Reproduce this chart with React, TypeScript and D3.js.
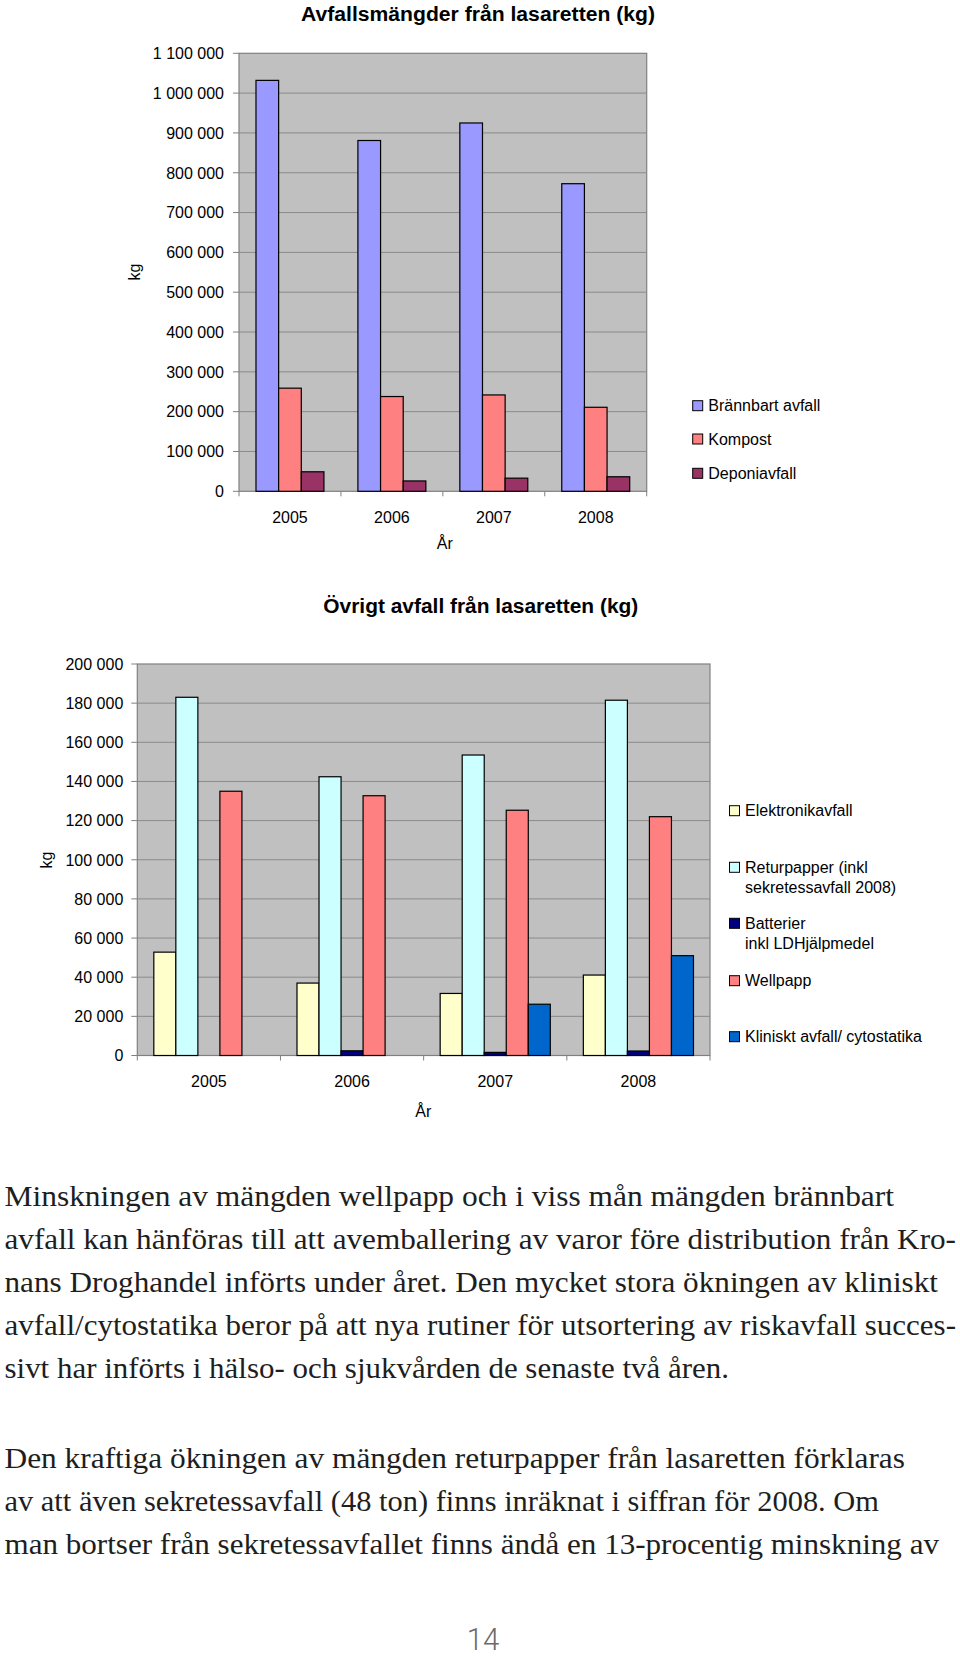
import React from "react";
import * as d3 from "d3";

const years = ["2005", "2006", "2007", "2008"];

// Chart 1: Avfallsmängder från lasaretten (kg)
const c1Series = ["Brännbart avfall", "Kompost", "Deponiavfall"];
const c1Colors = ["#9999FF", "#FF8080", "#993366"];
const brannbart = [1032000, 881000, 925000, 772500];
const kompost = [259000, 238000, 242000, 211000];
const deponi = [49000, 26000, 33000, 36500];
const c1Values = [brannbart, kompost, deponi];
const c1Ticks = d3.range(0, 1100001, 100000);

// Chart 2: Övrigt avfall från lasaretten (kg)
const c2Series = [
  ["Elektronikavfall"],
  ["Returpapper (inkl", "sekretessavfall 2008)"],
  ["Batterier", "inkl LDHjälpmedel"],
  ["Wellpapp"],
  ["Kliniskt avfall/ cytostatika"],
];
const c2Colors = ["#FFFFCC", "#CCFFFF", "#000080", "#FF8080", "#0066CC"];
const elektronik = [52800, 37000, 31700, 41100];
const returpapper = [183000, 142400, 153500, 181500];
const batterier = [0, 2400, 1600, 2300];
const wellpapp = [135000, 132700, 125300, 122000];
const kliniskt = [0, 0, 26200, 51000];
const c2Values = [elektronik, returpapper, batterier, wellpapp, kliniskt];
const c2Ticks = d3.range(0, 200001, 20000);

const para1 = [
  "Minskningen av mängden wellpapp och i viss mån mängden brännbart",
  "avfall kan hänföras till att avemballering av varor före distribution från Kro-",
  "nans Droghandel införts under året. Den mycket stora ökningen av kliniskt",
  "avfall/cytostatika beror på att nya rutiner för utsortering av riskavfall succes-",
  "sivt har införts i hälso- och sjukvården de senaste två åren.",
];
const para1Ends = [894, 956, 938, 956, 729];
const para2 = [
  "Den kraftiga ökningen av mängden returpapper från lasaretten förklaras",
  "av att även sekretessavfall (48 ton) finns inräknat i siffran för 2008. Om",
  "man bortser från sekretessavfallet finns ändå en 13-procentig minskning av",
];
const para2Ends = [905, 879, 939];

const locale = d3.formatLocale({
  decimal: ",",
  thousands: " ",
  grouping: [3],
  currency: ["", ""],
});
const fmt = locale.format(",d");

const SANS = "'Liberation Sans', Arial, sans-serif";
const SERIF = "'Liberation Serif', 'Times New Roman', serif";

type ChartProps = {
  left: number;
  right: number;
  top: number;
  bottom: number;
  max: number;
  ticks: number[];
  values: number[][];
  colors: string[];
  tickLabelX: number;
  tickLen: number;
  xLabelBaseline: number;
  arX: number;
  arBaseline: number;
  kgX: number;
  kgY: number;
  title: string;
  titleX: number;
  titleBaseline: number;
  titleWidth: number;
};

function BarChart(p: ChartProps) {
  const y = d3.scaleLinear().domain([0, p.max]).range([p.bottom, p.top]);
  const x0 = d3.scaleBand<string>().domain(years).range([p.left, p.right]).padding(0);
  const idx = p.values.map((_, i) => String(i));
  const x1 = d3
    .scaleBand<string>()
    .domain(idx)
    .range([0, x0.bandwidth()])
    .paddingInner(0)
    .paddingOuter(0.75);
  const boundaries = years.map((yr) => x0(yr) as number).concat([p.right]);
  return (
    <g>
      <text
        x={p.titleX}
        y={p.titleBaseline}
        fontFamily={SANS}
        fontWeight="bold"
        fontSize={19.5}
        textLength={p.titleWidth}
        lengthAdjust="spacingAndGlyphs"
        fill="#000"
      >
        {p.title}
      </text>
      <rect
        x={p.left}
        y={p.top}
        width={p.right - p.left}
        height={p.bottom - p.top}
        fill="#C0C0C0"
        stroke="#808080"
        strokeWidth={1.2}
      />
      {p.ticks.map((t) => (
        <g key={t}>
          {t > 0 && t < p.max && (
            <line x1={p.left} x2={p.right} y1={y(t)} y2={y(t)} stroke="#8a8a8a" strokeWidth={1} />
          )}
          <line x1={p.left - p.tickLen} x2={p.left} y1={y(t)} y2={y(t)} stroke="#808080" strokeWidth={1} />
          <text
            x={p.tickLabelX}
            y={y(t)}
            dy="0.36em"
            textAnchor="end"
            fontFamily={SANS}
            fontSize={16}
            fill="#000"
          >
            {fmt(t)}
          </text>
        </g>
      ))}
      {boundaries.map((b, i) => (
        <line key={i} x1={b} x2={b} y1={p.bottom} y2={p.bottom + 5} stroke="#808080" strokeWidth={1} />
      ))}
      {p.values.map((series, si) =>
        series.map((v, yi) =>
          v > 0 ? (
            <rect
              key={si + "-" + yi}
              x={(x0(years[yi]) as number) + (x1(String(si)) as number)}
              y={y(v)}
              width={x1.bandwidth()}
              height={p.bottom - y(v)}
              fill={p.colors[si]}
              stroke="#000"
              strokeWidth={1.2}
            />
          ) : null
        )
      )}
      {years.map((yr) => (
        <text
          key={yr}
          x={(x0(yr) as number) + x0.bandwidth() / 2}
          y={p.xLabelBaseline}
          textAnchor="middle"
          fontFamily={SANS}
          fontSize={16}
          fill="#000"
        >
          {yr}
        </text>
      ))}
      <text x={p.arX} y={p.arBaseline} textAnchor="middle" fontFamily={SANS} fontSize={16} fill="#000">
        År
      </text>
      <text
        transform={`translate(${p.kgX},${p.kgY}) rotate(-90)`}
        textAnchor="middle"
        fontFamily={SANS}
        fontSize={16}
        fill="#000"
      >
        kg
      </text>
    </g>
  );
}

export default function App() {
  return (
    <svg
      width={960}
      height={1656}
      viewBox="0 0 960 1656"
      style={{ position: "absolute", left: 0, top: 0, background: "#fff" }}
    >
      <rect x={0} y={0} width={960} height={1656} fill="#fff" />
      <BarChart
        left={239}
        right={646.7}
        top={53.3}
        bottom={491.3}
        max={1100000}
        ticks={c1Ticks}
        values={c1Values}
        colors={c1Colors}
        tickLabelX={224}
        tickLen={6}
        xLabelBaseline={523.3}
        arX={444.8}
        arBaseline={549.3}
        kgX={140}
        kgY={272}
        title="Avfallsmängder från lasaretten (kg)"
        titleX={301}
        titleBaseline={20.7}
        titleWidth={354}
      />
      {c1Series.map((s, i) => {
        const cy = [405.7, 439, 473.3][i];
        return (
          <g key={s}>
            <rect x={692.7} y={cy - 5} width={10} height={10} fill={c1Colors[i]} stroke="#000" strokeWidth={1} />
            <text x={708.3} y={cy} dy="0.36em" fontFamily={SANS} fontSize={16} fill="#000">
              {s}
            </text>
          </g>
        );
      })}

      <BarChart
        left={137.3}
        right={710}
        top={664}
        bottom={1055.5}
        max={200000}
        ticks={c2Ticks}
        values={c2Values}
        colors={c2Colors}
        tickLabelX={123.3}
        tickLen={6}
        xLabelBaseline={1087.3}
        arX={423.3}
        arBaseline={1116.7}
        kgX={52}
        kgY={860}
        title="Övrigt avfall från lasaretten (kg)"
        titleX={323.3}
        titleBaseline={613.3}
        titleWidth={315}
      />
      {c2Series.map((lines, i) => {
        const cy = [810.7, 867.3, 923.3, 980.7, 1036.7][i];
        return (
          <g key={i}>
            <rect x={729.5} y={cy - 5} width={10} height={10} fill={c2Colors[i]} stroke="#000" strokeWidth={1} />
            {lines.map((ln, li) => (
              <text key={li} x={745} y={cy + li * 20} dy="0.36em" fontFamily={SANS} fontSize={16} fill="#000">
                {ln}
              </text>
            ))}
          </g>
        );
      })}

      {para1.map((ln, i) => (
        <text
          key={"p1" + i}
          x={4.5}
          y={1206 + i * 43}
          fontFamily={SERIF}
          fontSize={30}
          fill="#1e1e1e"
          textLength={para1Ends[i] - 4.5}
          lengthAdjust="spacingAndGlyphs"
        >
          {ln}
        </text>
      ))}
      {para2.map((ln, i) => (
        <text
          key={"p2" + i}
          x={4.5}
          y={1467.5 + i * 43}
          fontFamily={SERIF}
          fontSize={30}
          fill="#1e1e1e"
          textLength={para2Ends[i] - 4.5}
          lengthAdjust="spacingAndGlyphs"
        >
          {ln}
        </text>
      ))}
      <text
        x={466.7}
        y={1649.5}
        fontFamily="Roboto, 'Liberation Sans Narrow', sans-serif"
        fontWeight={300}
        fontSize={31}
        fill="#6a6a6a"
        textLength={32.6}
        lengthAdjust="spacingAndGlyphs"
      >
        14
      </text>
    </svg>
  );
}
